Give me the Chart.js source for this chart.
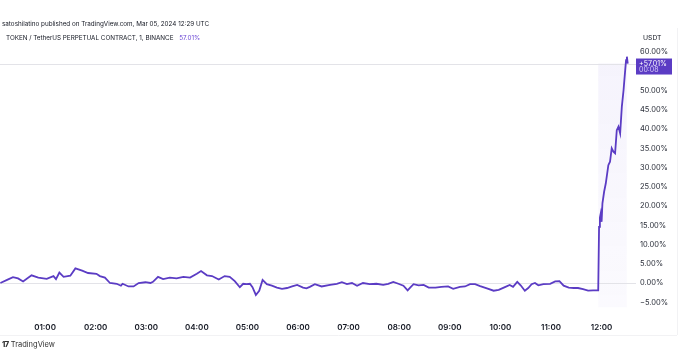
<!DOCTYPE html>
<html>
<head>
<meta charset="utf-8">
<script src="https://cdn.jsdelivr.net/npm/chart.js@4.4.1/dist/chart.umd.min.js"></script>
<style>
  html, body { margin: 0; padding: 0; background: #fff; }
  body { width: 693px; height: 361px; position: relative; overflow: hidden; font-family: Inter, "Noto Sans", sans-serif; color: #131722; }
  #wrap { position: absolute; left: 0; top: 0; width: 693px; height: 361px; }
  .txt { position: absolute; white-space: nowrap; }
  #line1 { left: 2px; top: 19.5px; font-size: 6.3px; }
  #line2 { left: 6px; top: 33.5px; font-size: 6.3px; }
  #line2 span { color: #6a46d4; margin-left: 4px; }
  #unit { left: 643px; top: 33px; font-size: 6.8px; }
  #logo { left: 2px; top: 340px; font-size: 7.5px; color: #333; }
  #logo b { font-weight: 800; letter-spacing: -0.5px; margin-right: 2px; }
</style>
</head>
<body>
<div id="wrap"><canvas id="chart" width="693" height="361"></canvas></div>
<div class="txt" id="line1">satoshilatino published on TradingView.com, Mar 05, 2024 12:29 UTC</div>
<div class="txt" id="line2">TOKEN / TetherUS PERPETUAL CONTRACT, 1, BINANCE <span>57.01%</span></div>
<div class="txt" id="unit">USDT</div>
<div class="txt" id="logo"><b>17</b>TradingView</div>
<script>
// minutes since 00:00 UTC
const times = [7, 15, 22, 28, 34, 44, 52, 62, 70, 73, 77, 82, 90, 96, 104, 111, 121, 125, 131, 137,
  145, 150, 152, 159, 165, 171, 179, 185, 188, 194, 200, 208, 216, 224, 232, 240, 245, 252, 258, 266,
  273, 279, 285, 291, 295, 299, 303, 306, 310, 314, 318, 323, 329, 335, 341, 347, 353, 359, 366, 370,
  374, 380, 388, 398, 406, 412, 418, 424, 430, 437, 445, 453, 461, 467, 473, 479, 485, 490, 493, 497,
  503, 509, 515, 523, 530, 538, 544, 552, 558, 564, 570, 576, 584, 592, 598, 604, 606, 611, 615, 620,
  624, 629, 633, 637, 641, 645, 651, 659, 665, 670, 675, 681, 687, 692, 698, 704, 710, 716, 717, 718,
  719, 720, 721, 723, 725, 728, 730, 732, 734, 736, 738, 740, 742, 744, 746, 747, 748, 749, 750, 751];

// change in %
const changes = [0.0, 0.8, 1.5, 1.2, 0.4, 2.0, 1.4, 1.1, 1.8, 1.0, 2.7, 1.6, 1.9, 3.8, 3.2, 2.6, 2.4, 1.8, 1.4, 0.0,
  -0.2, -0.7, -0.2, -0.9, -0.9, 0.0, 0.2, 0.0, 0.3, 1.6, 1.0, 1.4, 1.2, 1.6, 1.4, 2.4, 3.1, 2.0, 1.8, 0.9,
  1.8, 1.6, 0.5, -1.1, -0.2, -0.3, -0.2, -1.1, -3.1, -2.0, 0.8, -0.3, -0.7, -1.2, -1.5, -1.3, -0.9, -0.5, -1.2, -1.4,
  -1.0, -0.3, -0.9, -0.5, -0.2, 0.2, -0.3, 0.0, -0.7, 0.0, -0.3, -0.2, -0.5, -0.2, 0.3, -0.2, -0.7, -1.9, -1.2, -0.3,
  -0.6, -0.5, -1.2, -1.2, -1.0, -0.9, -1.5, -1.0, -0.9, -0.3, -0.3, -0.8, -1.4, -2.0, -1.8, -1.2, -1.0, -0.5, -1.0, 0.3,
  -0.6, -2.0, -1.3, -0.3, 0.0, -0.6, -0.3, -0.2, 0.4, 0.5, -0.7, -1.2, -1.3, -1.3, -1.6, -2.0, -1.9, -1.9, 14.6, 17.0,
  18.1, 15.9, 20.7, 23.7, 25.9, 30.6, 31.5, 35.0, 34.1, 33.7, 39.7, 40.6, 38.9, 45.8, 50.0, 52.7, 55.3, 57.9, 58.8, 57.01];

const hourTicks = [60, 120, 180, 240, 300, 360, 420, 480, 540, 600, 660, 720];
const pctTicks = [-5, 0, 5, 10, 15, 20, 25, 30, 35, 40, 45, 50, 60];
const bandStart = 716;
const lastValue = 57.01;
const countdown = '00:08';

const purple = '#5b3cc4';

const overlay = {
  id: 'overlay',
  beforeDatasetsDraw(chart) {
    const { ctx, chartArea, scales: { x, y } } = chart;
    ctx.save();
    // highlight band over the spike
    const x0 = x.getPixelForValue(bandStart);
    const x1 = x.getPixelForValue(times[times.length - 1]) - 1;
    const yTop = y.getPixelForValue(lastValue);
    const yBot = y.getPixelForValue(-6.3);
    const grad = ctx.createLinearGradient(0, yTop, 0, yBot);
    grad.addColorStop(0, 'rgba(120, 95, 220, 0.07)');
    grad.addColorStop(1, 'rgba(120, 95, 220, 0.03)');
    ctx.fillStyle = grad;
    ctx.fillRect(x0, yTop, x1 - x0, yBot - yTop);
    // zero line and last price line
    ctx.strokeStyle = '#e3e3e8';
    ctx.lineWidth = 1;
    [0, lastValue].forEach(v => {
      const py = Math.round(y.getPixelForValue(v)) + 0.5;
      ctx.beginPath();
      ctx.moveTo(chartArea.left, py);
      ctx.lineTo(chartArea.right, py);
      ctx.stroke();
    });
    ctx.restore();
  },
  afterDraw(chart) {
    const { ctx, chartArea, scales: { y } } = chart;
    ctx.save();
    // faint panel borders
    ctx.strokeStyle = '#f2f2f4';
    ctx.beginPath();
    ctx.moveTo(677.5, 28);
    ctx.lineTo(677.5, 335);
    ctx.moveTo(0, 335.5);
    ctx.lineTo(677, 335.5);
    ctx.stroke();
    // last value label
    const py = y.getPixelForValue(lastValue);
    const bx = chartArea.right;
    ctx.fillStyle = purple;
    ctx.fillRect(bx, py - 5, 36, 16);
    ctx.fillStyle = '#ffffff';
    ctx.font = '7px Inter, "Noto Sans", sans-serif';
    ctx.textBaseline = 'middle';
    ctx.fillText('+' + lastValue.toFixed(2) + '%', bx + 3, py + 0.5);
    ctx.fillStyle = '#d9cff7';
    ctx.fillText(countdown, bx + 3, py + 6.5);
    ctx.restore();
  }
};

new Chart(document.getElementById('chart'), {
  type: 'line',
  data: {
    datasets: [{
      data: times.map((t, i) => ({ x: t, y: changes[i] })),
      borderColor: purple,
      borderWidth: 1.8,
      pointRadius: 0,
      tension: 0,
      fill: false
    }]
  },
  options: {
    responsive: false,
    animation: false,
    layout: { padding: { top: 45, left: 0, right: 0, bottom: 0 } },
    plugins: { legend: { display: false }, tooltip: { enabled: false } },
    scales: {
      x: {
        type: 'linear',
        min: 6.6,
        max: 760.8,
        grid: { display: false, drawTicks: false },
        border: { display: false },
        afterBuildTicks: axis => { axis.ticks = hourTicks.map(v => ({ value: v })); },
        afterFit: axis => { axis.height = 43; },
        ticks: {
          padding: 5,
          maxRotation: 0,
          autoSkip: false,
          color: '#131722',
          font: { family: 'Inter, "Noto Sans", sans-serif', size: 8, weight: '600' },
          callback: v => String(Math.floor(v / 60)).padStart(2, '0') + ':00'
        }
      },
      y: {
        position: 'right',
        min: -9.09,
        max: 61.82,
        grid: { display: false, drawTicks: false },
        border: { display: false },
        afterBuildTicks: axis => { axis.ticks = pctTicks.map(v => ({ value: v })); },
        afterFit: axis => { axis.width = 57; },
        ticks: {
          padding: 4,
          color: '#2a2e39',
          font: { family: 'Inter, "Noto Sans", sans-serif', size: 7.5 },
          callback: v => (v < 0 ? '\u2212' + Math.abs(v).toFixed(2) : v.toFixed(2)) + '%'
        }
      }
    }
  },
  plugins: [overlay]
});
</script>
</body>
</html>
